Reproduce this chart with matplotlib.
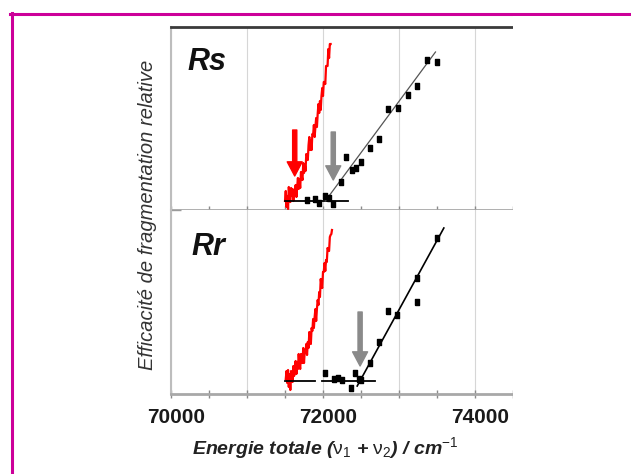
import matplotlib
matplotlib.use("Agg")
import matplotlib.pyplot as plt
from matplotlib.lines import Line2D
from matplotlib.patches import Rectangle
import matplotlib.transforms as mtransforms

plt.rcParams['font.family'] = ['Liberation Sans', 'DejaVu Sans']
plt.rcParams['mathtext.fontset'] = 'custom'
plt.rcParams['mathtext.rm'] = 'Liberation Sans'
plt.rcParams['mathtext.it'] = 'Liberation Sans'
plt.rcParams['mathtext.bf'] = 'Liberation Sans:bold:italic'

# ---------------- data ----------------
x_ticks = [70000, 72000, 74000]
x_tick_labels = ["70000", "72000", "74000"]
panel_labels = ["Rs", "Rr"]

# Rs panel : red spectrum (every 10 cm-1 from 71500 to 72100)
rs_red_x = [71500, 71510, 71520, 71530, 71540, 71550, 71560, 71570, 71580, 71590,
            71600, 71610, 71620, 71630, 71640, 71650, 71660, 71670, 71680, 71690,
            71700, 71710, 71720, 71730, 71740, 71750, 71760, 71770, 71780, 71790,
            71800, 71810, 71820, 71830, 71840, 71850, 71860, 71870, 71880, 71890,
            71900, 71910, 71920, 71930, 71940, 71950, 71960, 71970, 71980, 71990,
            72000, 72010, 72020, 72030, 72040, 72050, 72060, 72070, 72080, 72090,
            72100]
rs_red_y = [0.00, 0.10, -0.06, 0.05, -0.08, 0.14, 0.03, -0.01, 0.13, 0.05,
            0.12, 0.00, 0.10, 0.06, 0.16, 0.04, 0.14, 0.23, 0.12, 0.22,
            0.13, 0.29, 0.25, 0.21, 0.38, 0.28, 0.37, 0.30, 0.47, 0.46,
            0.41, 0.56, 0.64, 0.51, 0.61, 0.51, 0.67, 0.66, 0.76, 0.64,
            0.74, 0.83, 0.74, 0.87, 0.97, 0.88, 1.00, 0.91, 1.05, 1.13,
            1.05, 1.19, 1.19, 1.17, 1.35, 1.35, 1.35, 1.52, 1.43, 1.57,
            1.57]

# Rs panel : black points
rs_pts_x = [71790, 71891, 71945, 72022, 72074, 72127, 72240, 72306, 72380, 72430,
            72498, 72620, 72743, 72861, 72992, 73114, 73241, 73372, 73495]
rs_pts_y = [0.01, 0.02, -0.02, 0.05, 0.03, -0.03, 0.19, 0.44, 0.31, 0.33,
            0.39, 0.53, 0.62, 0.92, 0.93, 1.06, 1.15, 1.41, 1.39]
rs_fit_x = [72030, 73480]
rs_fit_y = [0.00, 1.49]
rs_base_x = [71497, 72328]

# Rr panel : red spectrum
rr_red_x = [71510, 71520, 71530, 71540, 71550, 71560, 71570, 71580, 71590, 71600,
            71610, 71620, 71630, 71640, 71650, 71660, 71670, 71680, 71690, 71700,
            71710, 71720, 71730, 71740, 71750, 71760, 71770, 71780, 71790, 71800,
            71810, 71820, 71830, 71840, 71850, 71860, 71870, 71880, 71890, 71900,
            71910, 71920, 71930, 71940, 71950, 71960, 71970, 71980, 71990, 72000,
            72010, 72020, 72030, 72040, 72050, 72060, 72070, 72080, 72090, 72100,
            72110, 72118]
rr_red_y = [0.02, 0.10, -0.02, 0.11, -0.06, 0.07, -0.09, 0.10, 0.05, -0.01,
            0.15, 0.05, 0.14, 0.20, 0.07, 0.19, 0.12, 0.27, 0.18, 0.12,
            0.27, 0.24, 0.18, 0.33, 0.18, 0.30, 0.28, 0.37, 0.26, 0.39,
            0.33, 0.49, 0.43, 0.37, 0.53, 0.50, 0.62, 0.53, 0.64, 0.72,
            0.60, 0.72, 0.81, 0.76, 0.89, 0.84, 1.02, 0.96, 0.93, 1.09,
            1.09, 1.18, 1.10, 1.21, 1.19, 1.33, 1.31, 1.30, 1.44, 1.46,
            1.47, 1.51]

# Rr panel : black points
rr_pts_x = [72022, 72140, 72192, 72249, 72371, 72424, 72468, 72503, 72620, 72743,
            72861, 72979, 73232, 73232, 73494]
rr_pts_y = [0.08, 0.02, 0.03, 0.01, -0.07, 0.08, 0.02, 0.01, 0.18, 0.39,
            0.70, 0.66, 1.03, 0.79, 1.43]
rr_fit_x = [72450, 73590]
rr_fit_y = [-0.05, 1.53]
rr_base1_x = [71506, 71900]
rr_base2_x = [71987, 72686]

# arrows (x, y_tail, y_tip)
rs_red_arrow = (71628, 0.71, 0.25)
rs_gray_arrow = (72135, 0.69, 0.21)
rr_gray_arrow = (72488, 0.69, 0.15)

# ---------------- figure ----------------
W, H = 631, 474
fig = plt.figure(figsize=(W / 100, H / 100), dpi=100)
fig.patch.set_facecolor('white')

def fx(px):
    return px / W

def fy(py):
    return 1 - py / H

left, right = 171, 513
ax1 = fig.add_axes([fx(left), fy(210), (right - left) / W, (210 - 27) / H])
ax2 = fig.add_axes([fx(left), fy(394), (right - left) / W, (394 - 210) / H])

xlim = (70000, 74500)
ax1.set_ylim(-0.09, 1.74)
ax2.set_ylim(-0.13, 1.71)

sq = [(-0.35, -0.5), (0.35, -0.5), (0.35, 0.5), (-0.35, 0.5), (-0.35, -0.5)]

def arrow(ax, spec, color):
    x, yt, yh = spec
    ax.annotate('', xy=(x, yh), xytext=(x, yt),
                arrowprops=dict(arrowstyle='simple,head_length=0.85,head_width=0.9,tail_width=0.25',
                                color=color, shrinkA=0, shrinkB=0, mutation_scale=12),
                zorder=6)

for ax in (ax1, ax2):
    ax.set_xlim(*xlim)
    ax.set_xticks(range(70000, 74501, 500))
    ax.set_yticks([])
    for v in range(70000, 74501, 1000):
        ax.axvline(v, color='#d6d6d6', lw=0.8, zorder=0)
    ax.spines['right'].set_visible(False)
    ax.spines['left'].set_color('#bdbdbd')
    ax.spines['left'].set_linewidth(1.5)
    ax.spines['bottom'].set_color('#a8a8a8')
    ax.spines['bottom'].set_linewidth(2)
    ax.tick_params(axis='x', direction='inout', length=6, width=1, color='#8a8a8a')

ax1.spines['top'].set_color('#3a3a3a')
ax1.spines['top'].set_linewidth(2)
ax2.spines['top'].set_visible(False)
ax1.tick_params(axis='x', labelbottom=False)

# small tick on left spine at panel boundary
ax2.set_yticks([1.71])
ax2.set_yticklabels([''])
ax2.tick_params(axis='y', direction='in', length=7, width=1, color='#9a9a9a')

# Rs panel
ax1.plot(rs_red_x, rs_red_y, color='#ff0000', lw=1.6, zorder=3)
ax1.plot(rs_base_x, [0, 0], color='black', lw=1.3, zorder=4)
ax1.plot(rs_fit_x, rs_fit_y, color='#555555', lw=0.9, zorder=4)
ax1.plot(rs_pts_x, rs_pts_y, linestyle='none', marker=sq, markersize=5,
         color='black', zorder=5)
arrow(ax1, rs_red_arrow, '#ff0000')
arrow(ax1, rs_gray_arrow, '#8a8a8a')

# Rr panel
ax2.plot(rr_red_x, rr_red_y, color='#ff0000', lw=1.6, zorder=3)
ax2.plot(rr_base1_x, [0, 0], color='black', lw=1.3, zorder=4)
ax2.plot(rr_base2_x, [0, 0], color='black', lw=1.3, zorder=4)
ax2.plot(rr_fit_x, rr_fit_y, color='black', lw=1.2, zorder=4)
ax2.plot(rr_pts_x, rr_pts_y, linestyle='none', marker=sq, markersize=5,
         color='black', zorder=5)
arrow(ax2, rr_gray_arrow, '#8a8a8a')

# x tick labels
ax2.set_xticks(range(70000, 74501, 500))
lbls = []
for v in range(70000, 74501, 500):
    lbls.append(x_tick_labels[x_ticks.index(v)] if v in x_ticks else '')
ax2.set_xticklabels(lbls, fontsize=15, fontweight='bold', color='#1a1a1a')
ax2.tick_params(axis='x', pad=7)
offset = mtransforms.ScaledTranslation(5 / 100, 0, fig.dpi_scale_trans)
for lab in ax2.get_xticklabels():
    lab.set_transform(lab.get_transform() + offset)

# panel labels
fig.text(fx(187), fy(70), panel_labels[0], fontsize=22, fontweight='bold',
         style='italic', va='baseline', ha='left', color='#111111')
fig.text(fx(191), fy(255), panel_labels[1], fontsize=22, fontweight='bold',
         style='italic', va='baseline', ha='left', color='#111111')

# axis labels
fig.text(fx(147.5), fy(215), "Efficacité de fragmentation relative", rotation=90,
         fontsize=14.5, style='italic', ha='center', va='center', color='#333333')
fig.text(fx(325), fy(448), r"Energie totale ($\nu_1$ + $\nu_2$) / cm$^{-1}$",
         fontsize=14, fontweight='bold', style='italic',
         ha='center', va='center', color='#222222')

# cropped right edge
fig.patches.append(Rectangle((fx(513), 0), 1 - fx(513), fy(16), transform=fig.transFigure,
                             facecolor='white', edgecolor='none', zorder=10))

# magenta frame
mag = '#cc0099'
fig.add_artist(Line2D([fx(10), 1], [fy(13.5), fy(13.5)], color=mag, lw=2.2,
                      transform=fig.transFigure))
fig.add_artist(Line2D([fx(11.5), fx(11.5)], [fy(12.5), 0], color=mag, lw=2.2,
                      transform=fig.transFigure))

fig.savefig("out.png", dpi=100, facecolor='white')
